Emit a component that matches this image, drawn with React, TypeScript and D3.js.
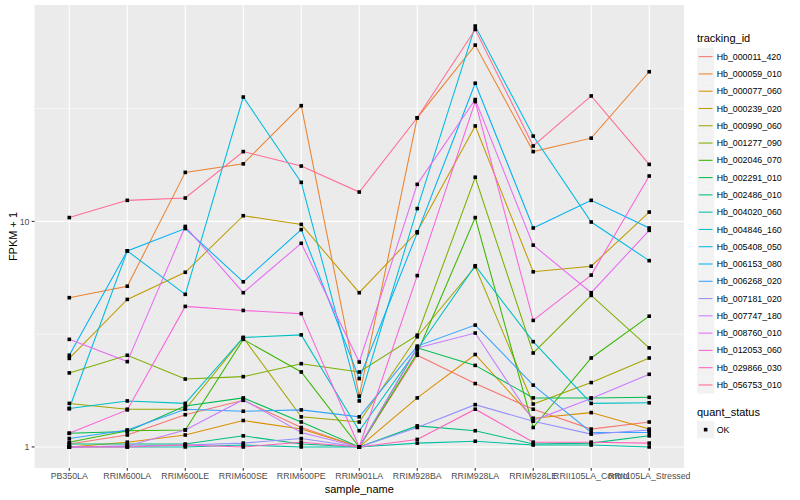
import React, { useEffect, useRef } from 'react';
import * as d3 from 'd3';

const sampleNames = [
  'PB350LA',
  'RRIM600LA',
  'RRIM600LE',
  'RRIM600SE',
  'RRIM600PE',
  'RRIM901LA',
  'RRIM928BA',
  'RRIM928LA',
  'RRIM928LE',
  'RRII105LA_Control',
  'RRII105LA_Stressed'
];

const trackingIds = [
  'Hb_000011_420',
  'Hb_000059_010',
  'Hb_000077_060',
  'Hb_000239_020',
  'Hb_000990_060',
  'Hb_001277_090',
  'Hb_002046_070',
  'Hb_002291_010',
  'Hb_002486_010',
  'Hb_004020_060',
  'Hb_004846_160',
  'Hb_005408_050',
  'Hb_006153_080',
  'Hb_006268_020',
  'Hb_007181_020',
  'Hb_007747_180',
  'Hb_008760_010',
  'Hb_012053_060',
  'Hb_029866_030',
  'Hb_056753_010'
];

// FPKM + 1, one value per sample_name
const hb000011_420 = [1.03, 1.13, 1.39, 1.61, 1.22, 1.0, 2.55, 1.91, 1.47, 1.2, 1.29];
const hb000059_010 = [4.59, 5.16, 16.5, 18.0, 32.6, 1.68, 28.8, 60.5, 20.4, 23.4, 46.1];
const hb000077_060 = [1.0, 1.05, 1.13, 1.31, 1.2, 1.0, 1.65, 2.57, 1.34, 1.42, 1.2];
const hb000239_020 = [2.47, 4.51, 5.95, 10.6, 9.7, 4.83, 9.0, 26.5, 5.98, 6.33, 11.0];
const hb000990_060 = [1.56, 1.47, 1.47, 3.05, 1.36, 1.29, 3.08, 6.3, 1.55, 1.93, 2.48];
const hb001277_090 = [2.13, 2.55, 2.0, 2.05, 2.34, 2.15, 3.13, 15.7, 2.61, 4.7, 2.75];
const hb002046_070 = [1.05, 1.18, 1.19, 3.0, 2.15, 1.0, 2.61, 10.4, 1.22, 2.48, 3.8];
const hb002291_010 = [1.15, 1.17, 1.52, 1.65, 1.29, 1.0, 2.75, 2.3, 1.65, 1.65, 1.66];
const hb002486_010 = [1.03, 1.03, 1.03, 1.12, 1.03, 1.0, 1.24, 1.18, 1.03, 1.04, 1.12];
const hb004020_060 = [1.0, 1.0, 1.0, 1.02, 1.0, 1.0, 1.04, 1.06, 1.02, 1.02, 1.0];
const hb004846_160 = [1.48, 1.6, 1.56, 3.06, 3.14, 1.18, 2.71, 6.36, 2.93, 1.56, 1.57];
const hb005408_050 = [1.48, 7.4, 4.75, 35.6, 14.9, 1.6, 11.4, 73.5, 23.9, 9.94, 6.7];
const hb006153_080 = [2.55, 7.4, 9.3, 5.4, 9.2, 2.01, 8.9, 41.0, 9.35, 12.4, 9.35];
const hb006268_020 = [1.09, 1.19, 1.47, 1.44, 1.46, 1.36, 2.8, 3.47, 1.88, 1.16, 1.16];
const hb007181_020 = [1.0, 1.01, 1.02, 1.04, 1.09, 1.0, 1.22, 1.54, 1.3, 1.14, 1.19];
const hb007747_180 = [1.0, 1.01, 1.19, 1.62, 1.16, 1.0, 2.75, 3.2, 1.31, 1.64, 2.1];
const hb008760_010 = [3.0, 2.39, 9.5, 4.83, 8.0, 2.38, 14.6, 34.7, 7.85, 4.83, 9.13];
const hb012053_060 = [1.15, 1.46, 4.2, 4.03, 3.9, 1.0, 5.75, 34.0, 3.64, 5.78, 15.9];
const hb029866_030 = [1.0, 1.0, 1.02, 1.0, 1.05, 1.0, 1.08, 1.47, 1.05, 1.05, 1.04];
const hb056753_010 = [10.4, 12.4, 12.7, 20.4, 17.6, 13.5, 28.8, 71.0, 21.6, 36.0, 17.9];

const seriesValues = [
  hb000011_420, hb000059_010, hb000077_060, hb000239_020, hb000990_060,
  hb001277_090, hb002046_070, hb002291_010, hb002486_010, hb004020_060,
  hb004846_160, hb005408_050, hb006153_080, hb006268_020, hb007181_020,
  hb007747_180, hb008760_010, hb012053_060, hb029866_030, hb056753_010
];

const yTicks = [1, 10];
const yMinorTicks = [Math.sqrt(10), Math.sqrt(1000)];

// ggplot2 hue palette for 20 levels
const hueColors = [
  '#F8766D', '#EA8331', '#D89000', '#C09B00', '#A3A500',
  '#7CAE00', '#39B600', '#00BB4E', '#00BF7D', '#00C1A3',
  '#00BFC4', '#00BAE0', '#00B0F6', '#35A2FF', '#9590FF',
  '#C77CFF', '#E76BF3', '#FA62DB', '#FF62BC', '#FF6C91'
];

const FONT = '"Liberation Sans", Arial, Helvetica, sans-serif';

const App = () => {
  const container = useRef(null);
  const width = 800;
  const height = 500;

  const panel = { l: 34.5, t: 5, r: 684, b: 468 };

  useEffect(() => {
    createChart();
  }, []);

  const createChart = () => {
    const svg = d3
      .select(container.current)
      .selectAll('svg')
      .data([0])
      .join('svg')
      .attr('width', width)
      .attr('height', height)
      .style('display', 'block')
      .style('font-family', FONT);

    svg.selectAll('*').remove();

    svg.append('rect').attr('width', width).attr('height', height).attr('fill', '#ffffff');

    const all = seriesValues.flat();
    const lo = Math.log10(d3.min(all));
    const hi = Math.log10(d3.max(all));
    const pad = (hi - lo) * 0.05;

    const yScale = d3
      .scaleLog()
      .domain([Math.pow(10, lo - pad), Math.pow(10, hi + pad)])
      .range([panel.b, panel.t]);

    const xScale = d3
      .scalePoint()
      .domain(sampleNames)
      .range([panel.l, panel.r])
      .padding(0.6);

    /* PANEL + GRID */
    svg
      .append('rect')
      .attr('x', panel.l)
      .attr('y', panel.t)
      .attr('width', panel.r - panel.l)
      .attr('height', panel.b - panel.t)
      .attr('fill', '#EBEBEB');

    const gridg = svg.append('g').attr('class', 'gridg');
    gridg
      .selectAll('.minor-y')
      .data(yMinorTicks)
      .join('line')
      .attr('class', 'minor-y')
      .attr('x1', panel.l)
      .attr('x2', panel.r)
      .attr('y1', d => yScale(d))
      .attr('y2', d => yScale(d))
      .attr('stroke', '#ffffff')
      .attr('stroke-width', 0.55);
    gridg
      .selectAll('.major-y')
      .data(yTicks)
      .join('line')
      .attr('class', 'major-y')
      .attr('x1', panel.l)
      .attr('x2', panel.r)
      .attr('y1', d => yScale(d))
      .attr('y2', d => yScale(d))
      .attr('stroke', '#ffffff')
      .attr('stroke-width', 1.1);
    gridg
      .selectAll('.major-x')
      .data(sampleNames)
      .join('line')
      .attr('class', 'major-x')
      .attr('x1', d => xScale(d))
      .attr('x2', d => xScale(d))
      .attr('y1', panel.t)
      .attr('y2', panel.b)
      .attr('stroke', '#ffffff')
      .attr('stroke-width', 1.1);

    /* LINES */
    const line = d3
      .line()
      .x((d, i) => xScale(sampleNames[i]))
      .y(d => yScale(d));

    svg
      .append('g')
      .attr('class', 'linesg')
      .selectAll('path')
      .data(seriesValues)
      .join('path')
      .attr('d', d => line(d))
      .attr('fill', 'none')
      .attr('stroke', (d, i) => hueColors[i])
      .attr('stroke-width', 1.05);

    /* POINTS */
    const pts = [];
    seriesValues.forEach(s => s.forEach((v, i) => pts.push({ x: sampleNames[i], v })));
    const ps = 3.6;
    svg
      .append('g')
      .attr('class', 'pointsg')
      .selectAll('rect')
      .data(pts)
      .join('rect')
      .attr('x', d => xScale(d.x) - ps / 2)
      .attr('y', d => yScale(d.v) - ps / 2)
      .attr('width', ps)
      .attr('height', ps)
      .attr('fill', '#000000');

    /* AXES */
    const axisg = svg.append('g').attr('class', 'axisg');
    axisg
      .selectAll('.ytick')
      .data(yTicks)
      .join('line')
      .attr('x1', panel.l - 2.8)
      .attr('x2', panel.l)
      .attr('y1', d => yScale(d))
      .attr('y2', d => yScale(d))
      .attr('stroke', '#333333')
      .attr('stroke-width', 1.1);
    axisg
      .selectAll('.ylab')
      .data(yTicks)
      .join('text')
      .attr('x', panel.l - 5)
      .attr('y', d => yScale(d))
      .attr('dy', '0.35em')
      .attr('text-anchor', 'end')
      .attr('font-size', 8.8)
      .attr('fill', '#4D4D4D')
      .text(d => d3.format('d')(d));

    axisg
      .selectAll('.xtick')
      .data(sampleNames)
      .join('line')
      .attr('x1', d => xScale(d))
      .attr('x2', d => xScale(d))
      .attr('y1', panel.b)
      .attr('y2', panel.b + 2.8)
      .attr('stroke', '#333333')
      .attr('stroke-width', 1.1);
    axisg
      .selectAll('.xlab')
      .data(sampleNames)
      .join('text')
      .attr('x', d => xScale(d))
      .attr('y', panel.b + 11)
      .attr('text-anchor', 'middle')
      .attr('font-size', 8.8)
      .attr('fill', '#4D4D4D')
      .text(d => d);

    svg
      .append('text')
      .attr('x', (panel.l + panel.r) / 2)
      .attr('y', 493)
      .attr('text-anchor', 'middle')
      .attr('font-size', 11)
      .attr('fill', '#000000')
      .text('sample_name');

    svg
      .append('text')
      .attr('transform', `translate(17,${(panel.t + panel.b) / 2})rotate(270)`)
      .attr('text-anchor', 'middle')
      .attr('font-size', 11)
      .attr('fill', '#000000')
      .text('FPKM + 1');

    /* LEGEND */
    const legx = 697;
    const key = 17.28;
    const legg = svg.append('g').attr('class', 'legg');
    legg
      .append('text')
      .attr('x', legx)
      .attr('y', 42)
      .attr('font-size', 11)
      .text('tracking_id');

    const items = legg
      .selectAll('.legitem')
      .data(trackingIds)
      .join('g')
      .attr('class', 'legitem')
      .attr('transform', (d, i) => `translate(${legx},${48 + i * key})`);
    items
      .append('rect')
      .attr('width', key)
      .attr('height', key)
      .attr('fill', '#F2F2F2');
    items
      .append('line')
      .attr('x1', key * 0.1)
      .attr('x2', key * 0.9)
      .attr('y1', key / 2)
      .attr('y2', key / 2)
      .attr('stroke', (d, i) => hueColors[i])
      .attr('stroke-width', 1.05);
    items
      .append('text')
      .attr('x', key + 2.4)
      .attr('y', key / 2)
      .attr('dy', '0.35em')
      .attr('font-size', 8.8)
      .text(d => d);

    legg
      .append('text')
      .attr('x', legx)
      .attr('y', 416)
      .attr('font-size', 11)
      .text('quant_status');
    const okg = legg.append('g').attr('transform', `translate(${legx},${421})`);
    okg.append('rect').attr('width', key).attr('height', key).attr('fill', '#F2F2F2');
    okg
      .append('rect')
      .attr('x', key / 2 - 1.8)
      .attr('y', key / 2 - 1.8)
      .attr('width', 3.6)
      .attr('height', 3.6)
      .attr('fill', '#000000');
    okg
      .append('text')
      .attr('x', key + 2.4)
      .attr('y', key / 2)
      .attr('dy', '0.35em')
      .attr('font-size', 8.8)
      .text('OK');
  };

  return (
    <div
      className="chart-container"
      ref={container}
      style={{ position: 'absolute', left: 0, top: 0 }}
    ></div>
  );
};

export default App;
